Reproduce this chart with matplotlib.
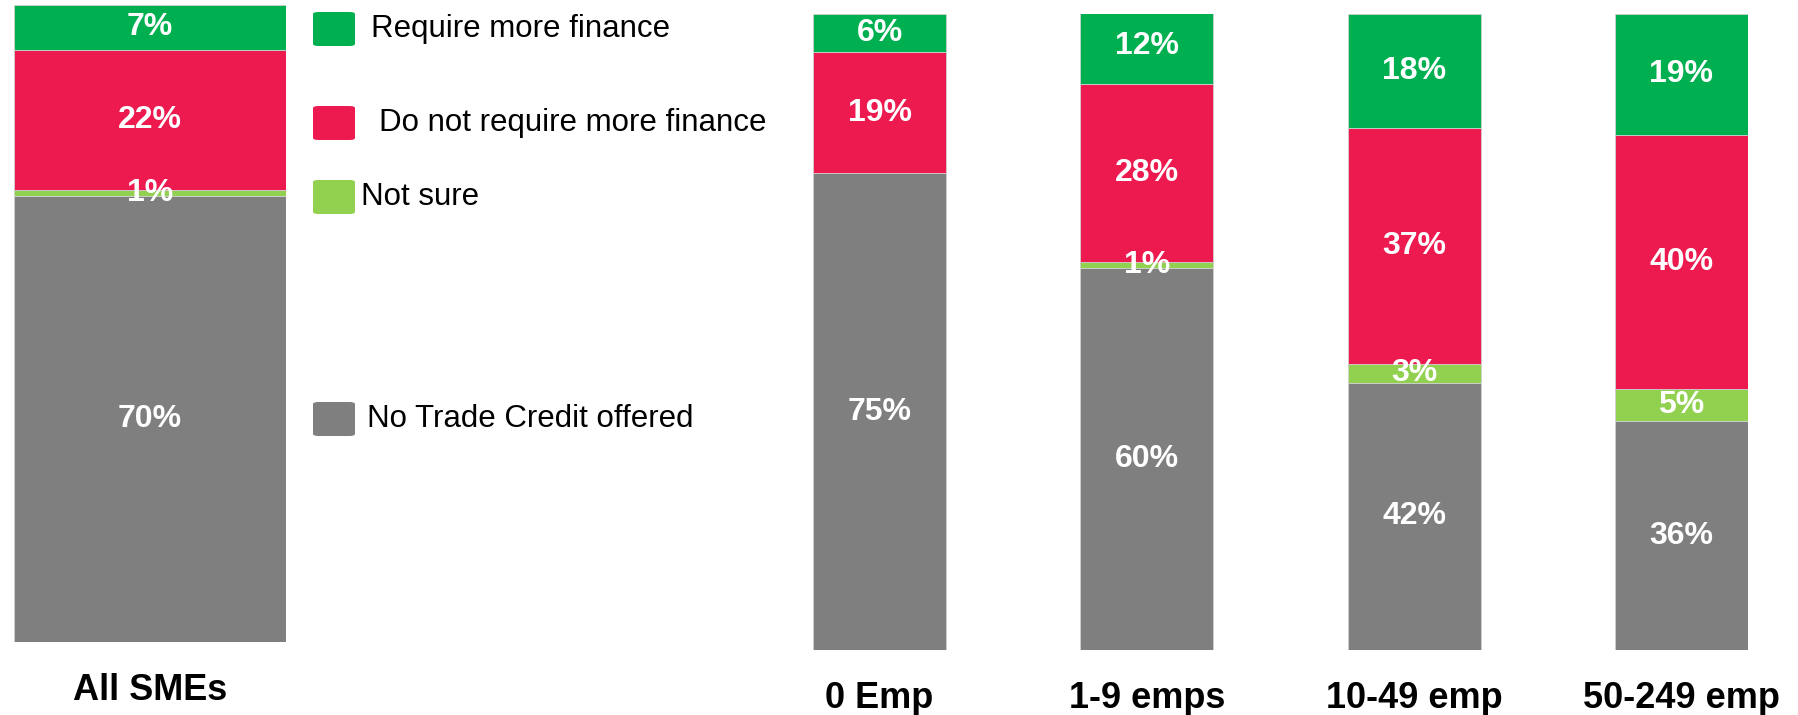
import matplotlib.pyplot as plt
from matplotlib.patches import FancyBboxPatch
import numpy as np

plt.rcParams['font.family'] = ['Liberation Sans', 'DejaVu Sans']

# series (bottom to top)
series = ['No Trade Credit offered', 'Not sure', 'Do not require more finance', 'Require more finance']
colors = ['#7f7f7f', '#92d050', '#ed1a50', '#00b050']

all_label = ['All SMEs']
all_vals = {'No Trade Credit offered': [70], 'Not sure': [1],
            'Do not require more finance': [22], 'Require more finance': [7]}

size_labels = ['0 Emp', '1-9 emps', '10-49 emp', '50-249 emp']
no_trade = [75, 60, 42, 36]
not_sure = [0, 1, 3, 5]
not_require = [19, 28, 37, 40]
require = [6, 12, 18, 19]
size_vals = {'No Trade Credit offered': no_trade, 'Not sure': not_sure,
             'Do not require more finance': not_require, 'Require more finance': require}

W, H = 1798, 715
fig = plt.figure(figsize=(W / 100, H / 100), dpi=100)


def stacked(ax, labels, vals, width):
    x = np.arange(len(labels))
    bottom = np.zeros(len(labels))
    for name, col in zip(series, colors):
        v = np.array(vals[name], dtype=float)
        ax.bar(x, v, width, bottom=bottom, color=col, edgecolor='#d0d0d0', linewidth=0.6)
        for xi, b, vi in zip(x, bottom, v):
            if vi > 0:
                ax.text(xi, b + vi / 2, f'{int(vi)}%', ha='center', va='center',
                        color='white', fontsize=23, fontweight='bold')
        bottom += v
    ax.set_ylim(0, 100)
    ax.set_yticks([])
    ax.set_xticks(x)
    ax.set_xticklabels(labels, fontsize=26, fontweight='bold')
    ax.tick_params(axis='x', length=0, pad=22)
    for s in ax.spines.values():
        s.set_visible(False)


# left panel: all SMEs
ax1 = fig.add_axes([14 / W, (H - 642) / H, 272 / W, 637 / H])
stacked(ax1, all_label, all_vals, 1.0)
ax1.set_xlim(-0.5, 0.5)

# right panel: by size
ax2 = fig.add_axes([813 / W, (H - 650) / H, 935 / W, 636 / H])
stacked(ax2, size_labels, size_vals, 0.498)
ax2.set_xlim(-0.249, 3.249)

# legend drawn by hand
leg_y = [29, 123, 197, 419]
leg_text_x = [371, 379, 361, 367]
leg_order = ['Require more finance', 'Do not require more finance', 'Not sure', 'No Trade Credit offered']
for name, y, tx in zip(leg_order, leg_y, leg_text_x):
    col = colors[series.index(name)]
    fig.patches.append(FancyBboxPatch((313 / W, (H - y - 17) / H), 42 / W, 34 / H,
                                      boxstyle='round,pad=0,rounding_size=0.003',
                                      transform=fig.transFigure, facecolor=col, edgecolor='none'))
    fig.text(tx / W, (H - y) / H, name, fontsize=22.5, va='center', ha='left')

fig.savefig('out.png', dpi=100)
